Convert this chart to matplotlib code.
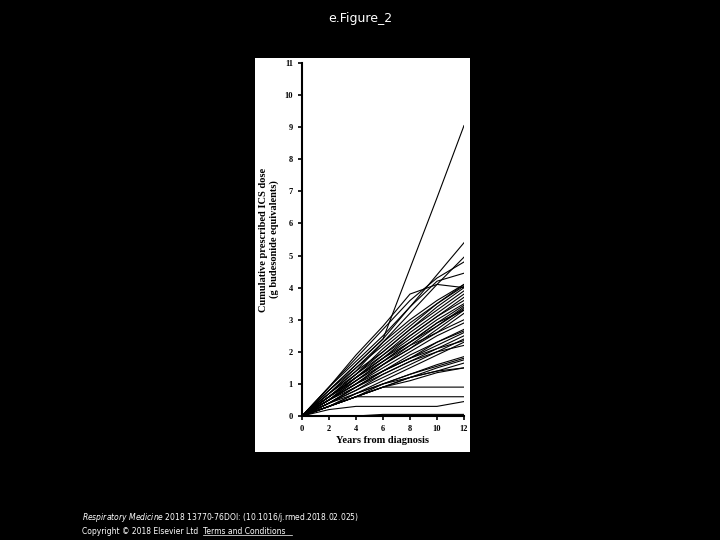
import matplotlib.pyplot as plt
from matplotlib.patches import Rectangle

years = [0, 2, 4, 6, 8, 10, 12]
# cumulative ICS dose per patient (g budesonide equivalents)
patients = [
    [0, 0.8, 1.6, 2.4, 4.6, 6.8, 9.05],
    [0, 0.9, 1.7, 2.5, 3.4, 4.4, 5.4],
    [0, 0.7, 1.5, 2.3, 3.2, 4.1, 4.95],
    [0, 0.9, 1.8, 2.7, 3.6, 4.3, 4.8],
    [0, 0.8, 1.6, 2.4, 3.4, 4.2, 4.45],
    [0, 0.9, 1.9, 2.8, 3.8, 4.1, 4.0],
    [0, 0.7, 1.4, 2.3, 3.0, 3.6, 4.1],
    [0, 0.6, 1.3, 2.1, 2.8, 3.5, 4.05],
    [0, 0.6, 1.3, 2.0, 2.7, 3.4, 4.0],
    [0, 0.7, 1.4, 2.0, 2.7, 3.3, 3.9],
    [0, 0.6, 1.2, 1.9, 2.5, 3.1, 3.7],
    [0, 0.6, 1.2, 1.8, 2.4, 3.0, 3.5],
    [0, 0.5, 1.1, 1.7, 2.3, 2.9, 3.45],
    [0, 0.6, 1.1, 1.7, 2.3, 2.8, 3.4],
    [0, 0.5, 1.0, 1.6, 2.2, 2.8, 3.35],
    [0, 0.5, 1.0, 1.6, 2.1, 2.7, 3.3],
    [0, 0.5, 1.1, 1.6, 2.1, 2.6, 3.2],
    [0, 0.6, 1.2, 1.7, 2.2, 2.6, 3.0],
    [0, 0.5, 1.0, 1.5, 2.0, 2.5, 2.9],
    [0, 0.4, 0.9, 1.4, 1.9, 2.3, 2.7],
    [0, 0.4, 0.9, 1.4, 1.8, 2.3, 2.65],
    [0, 0.5, 0.9, 1.4, 1.8, 2.2, 2.6],
    [0, 0.4, 0.8, 1.3, 1.7, 2.1, 2.5],
    [0, 0.5, 1.0, 1.4, 1.8, 2.1, 2.35],
    [0, 0.4, 0.9, 1.3, 1.7, 2.0, 2.2],
    [0, 0.3, 0.7, 1.0, 1.3, 1.6, 1.85],
    [0, 0.3, 0.6, 1.0, 1.3, 1.55, 1.8],
    [0, 0.3, 0.6, 0.9, 1.2, 1.5, 1.75],
    [0, 0.3, 0.6, 0.9, 1.2, 1.4, 1.65],
    [0, 0.3, 0.6, 0.9, 1.1, 1.35, 1.5],
    [0, 0.4, 0.7, 1.0, 1.2, 1.4, 1.5],
    [0, 0.3, 0.6, 0.9, 0.9, 0.9, 0.9],
    [0, 0.3, 0.6, 0.6, 0.6, 0.6, 0.6],
    [0, 0.2, 0.3, 0.3, 0.3, 0.3, 0.45],
    [0, 0.0, 0.0, 0.05, 0.05, 0.05, 0.05],
    [0, 0.8, 1.5, 2.2, 2.9, 3.5, 4.1],
    [0, 0.7, 1.3, 1.9, 2.6, 3.2, 3.8],
    [0, 0.5, 1.2, 1.8, 2.5, 3.1, 3.6],
    [0, 0.6, 1.2, 1.8, 2.3, 2.9, 3.3],
    [0, 0.4, 0.8, 1.2, 1.6, 2.0, 2.4],
    [0, 0.3, 0.7, 1.1, 1.5, 1.9, 2.3],
]

fig = plt.figure(figsize=(7.2, 5.4), dpi=100, facecolor='black')
fig.text(0.5, 0.965, 'e.Figure_2', color='white', ha='center', va='center', fontsize=9)
fig.patches.append(Rectangle((255 / 720, 1 - 452 / 540), 215 / 720, 394 / 540,
                             transform=fig.transFigure, facecolor='white', zorder=-5))

ax = fig.add_axes([302 / 720, 1 - 416 / 540, 162 / 720, 353 / 540])
ax.set_zorder(1)
ax.set_facecolor('white')
for p in patients:
    ax.plot(years, p, color='black', lw=0.8)
ax.set_xlim(0, 12)
ax.set_ylim(0, 11)
ax.set_xticks(range(0, 13, 2))
ax.set_yticks(range(0, 12))
for s in ['top', 'right']:
    ax.spines[s].set_visible(False)
ax.spines['left'].set_linewidth(1.5)
ax.spines['bottom'].set_linewidth(1.5)
ax.tick_params(labelsize=6, width=1.2, length=3)
for lab in ax.get_xticklabels() + ax.get_yticklabels():
    lab.set_fontfamily('Liberation Serif')
    lab.set_fontweight('bold')
ax.set_xlabel('Years from diagnosis', fontsize=7.5, fontweight='bold',
              fontfamily='Liberation Serif', labelpad=2)
ax.set_ylabel('Cumulative prescribed ICS dose\n(g budesonide equivalents)', fontsize=7.5,
              fontweight='bold', fontfamily='Liberation Serif', labelpad=4)

fig.text(82 / 720, 1 - 518 / 540,
         r'$\it{Respiratory\ Medicine}$ 2018 13770-76DOI: (10.1016/j.rmed.2018.02.025)',
         color='white', fontsize=5.5, va='center')
fig.text(82 / 720, 1 - 531 / 540, 'Copyright © 2018 Elsevier Ltd', color='white',
         fontsize=5.5, va='center')
fig.text(203 / 720, 1 - 531 / 540, 'Terms and Conditions', color='white',
         fontsize=5.5, va='center')
fig.lines.append(plt.Line2D([203 / 720, 292 / 720], [1 - 535 / 540] * 2,
                            transform=fig.transFigure, color='white', lw=0.5))

fig.savefig('out.png', dpi=100, facecolor='black')
